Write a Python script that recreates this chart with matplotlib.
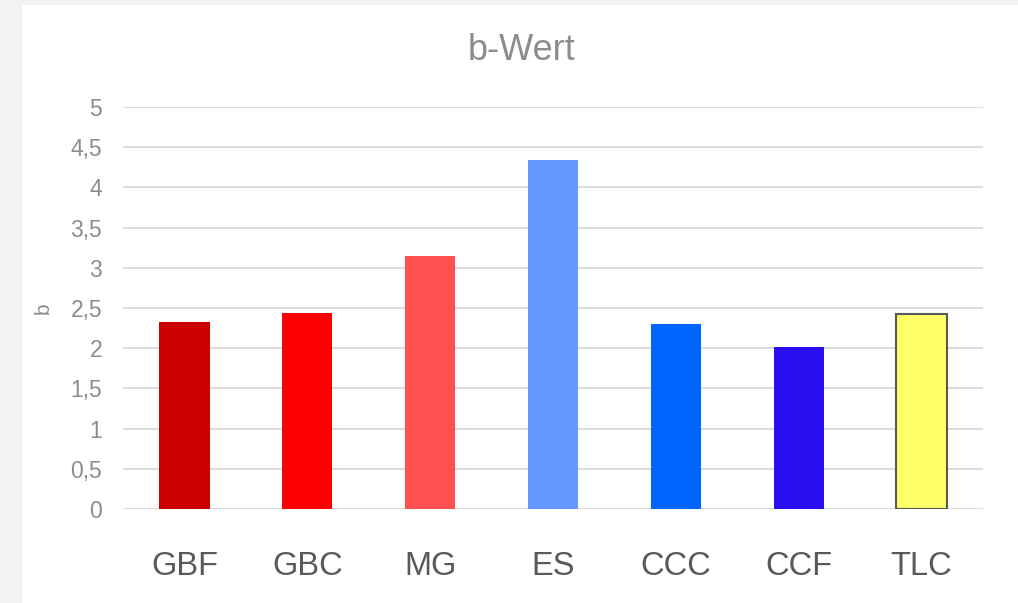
import matplotlib
matplotlib.use("Agg")
import matplotlib.pyplot as plt
from matplotlib.patches import Rectangle

categories = ["GBF", "GBC", "MG", "ES", "CCC", "CCF", "TLC"]
b_values = [2.33, 2.44, 3.15, 4.34, 2.30, 2.01, 2.43]
bar_colors = ["#CC0000", "#FF0000", "#FF5050", "#6699FF", "#0066FF", "#2A0FF0", "#FFFF66"]
edge_colors = ["none"] * 6 + ["#595959"]
y_ticks = [0, 0.5, 1, 1.5, 2, 2.5, 3, 3.5, 4, 4.5, 5]
y_tick_labels = ["0", "0,5", "1", "1,5", "2", "2,5", "3", "3,5", "4", "4,5", "5"]

plt.rcParams["font.family"] = ["Liberation Sans", "DejaVu Sans"]

W, H = 1018, 603
fig = plt.figure(figsize=(W / 100, H / 100), dpi=100, facecolor="#F2F2F2")
# white chart panel behind the axes
fig.patches.append(Rectangle((22 / W, 0), 1 - 22 / W, 1 - 5 / H,
                             transform=fig.transFigure, facecolor="white",
                             edgecolor="none", zorder=-10))

ax = fig.add_axes([123 / W, (H - 509) / H, (983 - 123) / W, (509 - 107) / H])
ax.set_facecolor("none")
x = range(len(categories))
ax.bar(x, b_values, width=0.41, color=bar_colors, edgecolor=edge_colors,
       linewidth=1.5, zorder=3)
ax.set_xlim(-0.5, len(categories) - 0.5)
ax.set_ylim(0, 5)
ax.set_yticks(y_ticks)
ax.set_yticklabels(y_tick_labels)
ax.set_xticks(list(x))
ax.set_xticklabels(categories)
ax.grid(axis="y", color="#D9D9D9", linewidth=1.3, zorder=0)
for s in ax.spines.values():
    s.set_visible(False)
ax.tick_params(axis="y", length=0, pad=15, labelsize=16.5, labelcolor="#8C8C8C")
ax.tick_params(axis="x", length=0, pad=30, labelsize=23.5, labelcolor="#595959")

fig.text(43 / W, (H - 308) / H, "b", rotation=90, fontsize=15, color="#8C8C8C",
         ha="center", va="center")
fig.text(522 / W, (H - 60) / H, "b-Wert", fontsize=26, color="#8C8C8C",
         ha="center", va="baseline")

fig.savefig("out.png", dpi=100, facecolor=fig.get_facecolor())
